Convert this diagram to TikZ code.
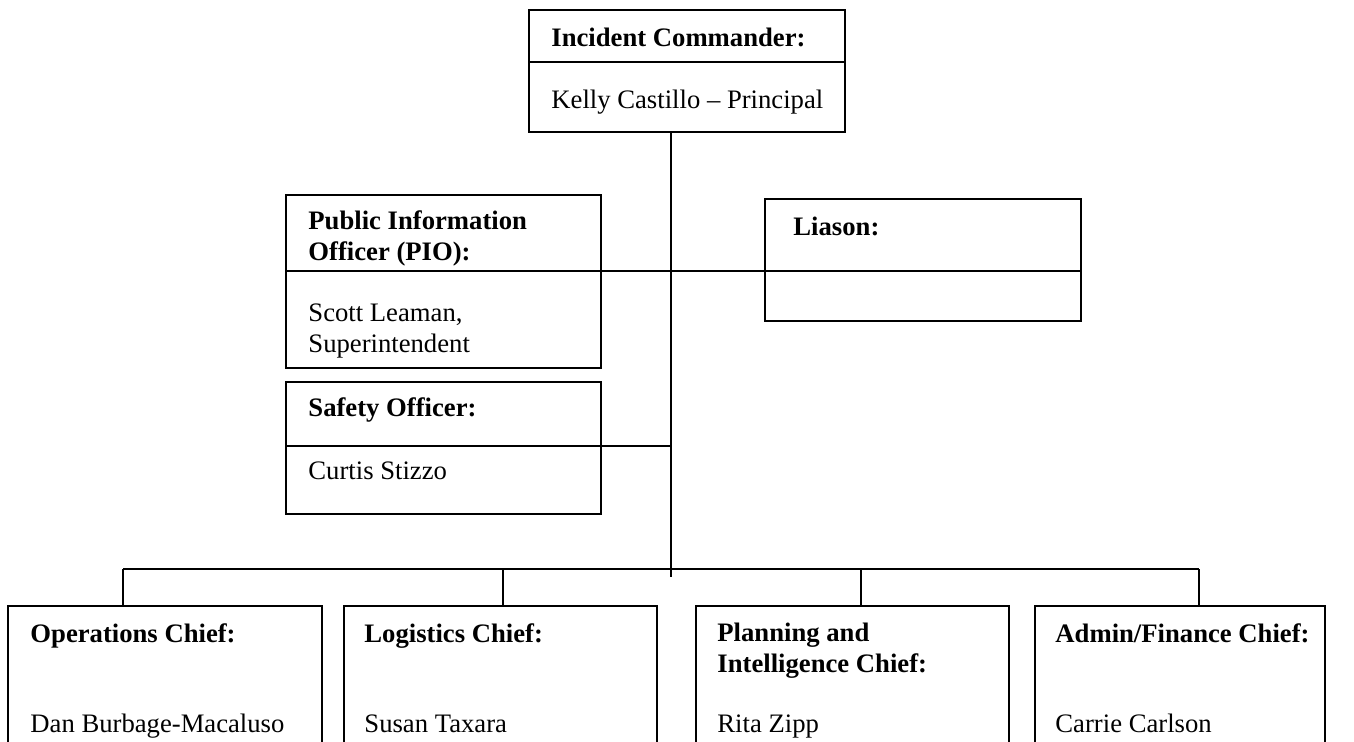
\documentclass[tikz,border=0pt]{standalone}
\usepackage{fontspec}
\setmainfont{Liberation Serif}
\usetikzlibrary{fit}

\begin{document}
\begin{tikzpicture}[x=0.45pt, y=-0.45pt,
		box/.style={draw, line width=0.8pt, inner sep=0pt},
		divider/.style={line width=0.8pt},
		link/.style={line width=0.7pt},
		person/.style={anchor=base west, inner sep=0pt, align=left, font=\fontsize{12}{13.8}\selectfont},
		head/.style={person, font=\fontsize{12}{13.8}\selectfont\bfseries}]
		\clip (0,0) rectangle (1354,742);
		% boxes
		\node[box, fit={(529,10) (845,132)}] (ic) {};
		\node[box, fit={(286,195) (601,368)}] (pio) {};
		\node[box, fit={(765,199) (1081,321)}] (liason) {};
		\node[box, fit={(286,382) (601,514)}] (safety) {};
		\node[box, fit={(8,606) (322,770)}] (ops) {};
		\node[box, fit={(344,606) (657,770)}] (logistics) {};
		\node[box, fit={(696,606) (1009,770)}] (planning) {};
		\node[box, fit={(1035,606) (1325,770)}] (admin) {};
		\draw[divider] (529,62) -- (845,62);
		\draw[divider] (286,271) -- (601,271);
		\draw[divider] (765,271) -- (1081,271);
		\draw[divider] (286,446) -- (601,446);
		% texts (base = last line)
		\node[head] (ic-head) at (551,46) {Incident Commander:};
		\node[person] (ic-name) at (551,108) {Kelly Castillo -- Principal};
		\node[head] (pio-head) at (308,260) {Public Information\\Officer (PIO):};
		\node[person] (pio-name) at (308,352) {Scott Leaman,\\Superintendent};
		\node[head] (liason-head) at (793,235) {Liason:};
		\node[head] (safety-head) at (308,416) {Safety Officer:};
		\node[person] (safety-name) at (308,479) {Curtis Stizzo};
		\node[head] (ops-head) at (30,642) {Operations Chief:};
		\node[person] (ops-name) at (30,732) {Dan Burbage-Macaluso};
		\node[head] (logistics-head) at (364,642) {Logistics Chief:};
		\node[person] (logistics-name) at (364,732) {Susan Taxara};
		\node[head] (planning-head) at (717,672) {Planning and\\Intelligence Chief:};
		\node[person] (planning-name) at (717,732) {Rita Zipp};
		\node[head] (admin-head) at (1055,642) {Admin/Finance Chief:};
		\node[person] (admin-name) at (1055,732) {Carrie Carlson};
		% connectors
		\coordinate (trunk) at (671,577);
		\coordinate (pio-level) at (0,271);
		\coordinate (safety-level) at (0,446);
		\coordinate (ops-top) at (123,569);
		\coordinate (logistics-top) at (503,569);
		\coordinate (planning-top) at (861,569);
		\coordinate (admin-top) at (1199,569);
		\draw[link] (ic.south -| trunk) -- (trunk);
		\draw[link] (pio.east |- pio-level) -- (liason.west |- pio-level);
		\draw[link] (safety.east |- safety-level) -- (trunk |- safety-level);
		\draw[link] (ops-top) -- (admin-top);
		\foreach \n in {ops, logistics, planning, admin}
			\draw[link] (\n-top) -- (\n-top |- \n.north);
	\end{tikzpicture}
\end{document}
